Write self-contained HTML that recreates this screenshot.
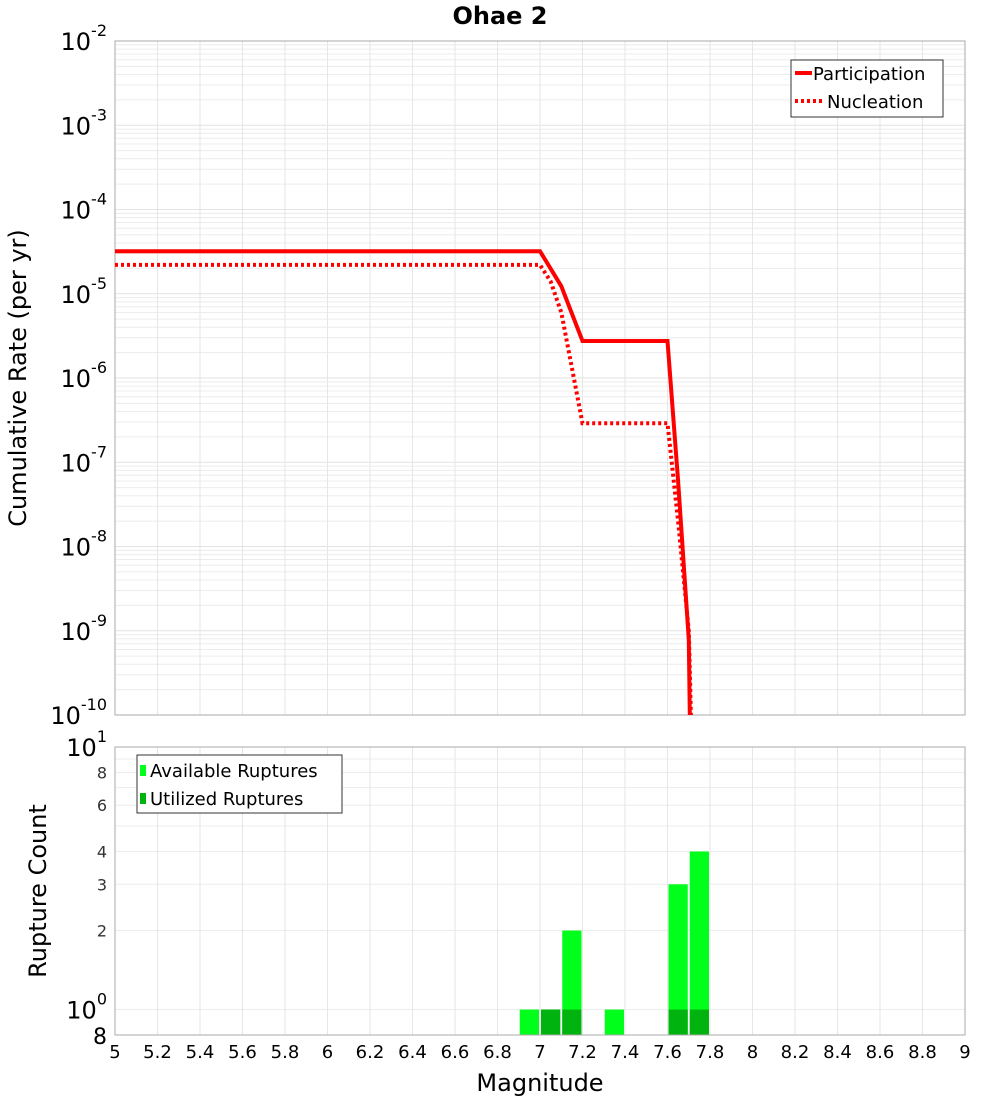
<!DOCTYPE html>
<html><head><meta charset="utf-8"><style>
body{margin:0;background:#fff;font-family:"DejaVu Sans","Liberation Sans",sans-serif}
svg text{font-family:"DejaVu Sans","Liberation Sans",sans-serif}
</style></head><body>
<svg id="c" width="1000" height="1100" xmlns="http://www.w3.org/2000/svg">
<text x="500" y="24" text-anchor="middle" font-size="24" font-weight="bold">Ohae 2</text>
<g id="topG"></g>
<g id="botG"></g>
<text x="540" y="1091" text-anchor="middle" font-size="24">Magnitude</text>
<text transform="translate(26,378) rotate(-90)" text-anchor="middle" font-size="24">Cumulative Rate (per yr)</text>
<text transform="translate(46,891) rotate(-90)" text-anchor="middle" font-size="24">Rupture Count</text>
</svg>
<script>
const partMag=[5,7.0,7.1,7.2,7.6,7.65,7.7,7.705];
const partRate=[3.2e-5,3.2e-5,1.23e-5,2.75e-6,2.75e-6,6e-8,7.8e-10,1e-10];
const nuclMag=[5,7.0,7.05,7.1,7.2,7.6,7.65,7.7,7.71];
const nuclRate=[2.2e-5,2.2e-5,1.4e-5,6e-6,2.9e-7,2.9e-7,2e-8,1e-9,1e-10];
const binStart=[6.9,7.0,7.1,7.3,7.6,7.7];
const availCount=[1,1,2,1,3,4];
const usedCount=[0,1,1,0,1,1];
const xTicks=[5,5.2,5.4,5.6,5.8,6,6.2,6.4,6.6,6.8,7,7.2,7.4,7.6,7.8,8,8.2,8.4,8.6,8.8,9];
const yExps=[-2,-3,-4,-5,-6,-7,-8,-9,-10];
const botTicks=[8,6,4,3,2];

const NS="http://www.w3.org/2000/svg";
const L=115,R=965,T1=41,B1=715,T2=747,B2=1035;
const x=m=>L+(m-5)/4*(R-L);
const y1=v=>T1+(-2-Math.log10(v))*(B1-T1)/8;
const bd=Math.log10(10)-Math.log10(0.8);
const y2=v=>B2-(Math.log10(v)-Math.log10(0.8))/bd*(B2-T2);
function el(p,t,a){const e=document.createElementNS(NS,t);for(const k in a)e.setAttribute(k,a[k]);p.appendChild(e);return e;}
const topG=document.getElementById('topG'),botG=document.getElementById('botG');

for(let d=-10;d<-2;d++)for(let k=1;k<10;k++){const yy=y1(k*Math.pow(10,d));
 const g=el(topG,'line',{x1:L,x2:R,y1:yy,y2:yy,stroke:k==1?'#e2e2e2':'#ececec','stroke-width':1});
 
 }
xTicks.forEach(m=>{const g=el(topG,'line',{x1:x(m),x2:x(m),y1:T1,y2:B1,stroke:'#e6e6e6'});
 
 });
const f1=el(topG,'rect',{x:L,y:T1,width:R-L,height:B1-T1,fill:'none',stroke:'#aaa'});


yExps.forEach(e=>{const t=el(topG,'text',{x:107,y:y1(Math.pow(10,e))+9,'text-anchor':'end','font-size':24});
 
 
 t.innerHTML='10<tspan dy="-14" font-size="16">'+e+'</tspan>';});
function path(ms,vs){return ms.map((m,i)=>(i?'L':'M')+x(m).toFixed(1)+','+y1(vs[i]).toFixed(1)).join(' ');}
const cp=el(topG,'clipPath',{id:'cp'});el(cp,'rect',{x:L,y:T1,width:R-L,height:B1-T1});
const pl=el(topG,'path',{d:path(partMag,partRate),fill:'none',stroke:'#f00','stroke-width':4,'clip-path':'url(#cp)'});


const nl=el(topG,'path',{d:path(nuclMag,nuclRate),fill:'none',stroke:'#f00','stroke-width':4,'stroke-dasharray':'3,3','clip-path':'url(#cp)'});


const lg=el(topG,'g',{});


el(lg,'rect',{x:791,y:60,width:152,height:57,fill:'#fff',stroke:'#333'});
el(lg,'line',{x1:795,x2:812,y1:73,y2:73,stroke:'#f00','stroke-width':4});
el(lg,'line',{x1:795,x2:822,y1:101,y2:101,stroke:'#f00','stroke-width':4,'stroke-dasharray':'3,3'});
const t1=el(lg,'text',{x:813,y:80,'font-size':18});t1.textContent='Participation';
const t2=el(lg,'text',{x:827,y:108,'font-size':18});t2.textContent='Nucleation';

[1,2,3,4,5,6,7,8,9,10].forEach(v=>{const g=el(botG,'line',{x1:L,x2:R,y1:y2(v),y2:y2(v),stroke:'#ececec'});
 
 });
xTicks.forEach(m=>{const g=el(botG,'line',{x1:x(m),x2:x(m),y1:T2,y2:B2,stroke:'#e6e6e6'});
 
 
 const t=el(botG,'text',{x:x(m),y:1058,'text-anchor':'middle','font-size':18});
 
 
 t.textContent=String(m);});
binStart.forEach((m,i)=>{
 const r=el(botG,'rect',{x:x(m)+1,y:y2(availCount[i]),width:x(m+0.1)-x(m)-2,height:B2-y2(availCount[i]),fill:'#00ff1a'});
 
 
 if(usedCount[i]>0){const u=el(botG,'rect',{x:x(m)+1,y:y2(usedCount[i]),width:x(m+0.1)-x(m)-2,height:B2-y2(usedCount[i]),fill:'#00b30f'});
 
 }
});
const f2=el(botG,'rect',{x:L,y:T2,width:R-L,height:B2-T2,fill:'none',stroke:'#aaa'});


botTicks.forEach(v=>{const t=el(botG,'text',{x:107,y:y2(v)+6,'text-anchor':'end','font-size':16,fill:'#333'});
 
 
 t.textContent=String(v);});
[[10,'1'],[1,'0']].forEach(([v,e])=>{const t=el(botG,'text',{x:107,y:y2(v)+9,'text-anchor':'end','font-size':24});
 
 
 t.innerHTML='10<tspan dy="-14" font-size="16">'+e+'</tspan>';});
const t8=el(botG,'text',{x:107,y:1044,'text-anchor':'end','font-size':22});


t8.textContent='8';
const lb=el(botG,'g',{});


el(lb,'rect',{x:137,y:755,width:205,height:58,fill:'#fff',stroke:'#333'});
el(lb,'rect',{x:140,y:765,width:6,height:11,fill:'#00ff1a'});
el(lb,'rect',{x:140,y:793,width:6,height:11,fill:'#00b30f'});
const a1=el(lb,'text',{x:150,y:777,'font-size':18});a1.textContent='Available Ruptures';
const a2=el(lb,'text',{x:150,y:805,'font-size':18});a2.textContent='Utilized Ruptures';
</script>
</body></html>
